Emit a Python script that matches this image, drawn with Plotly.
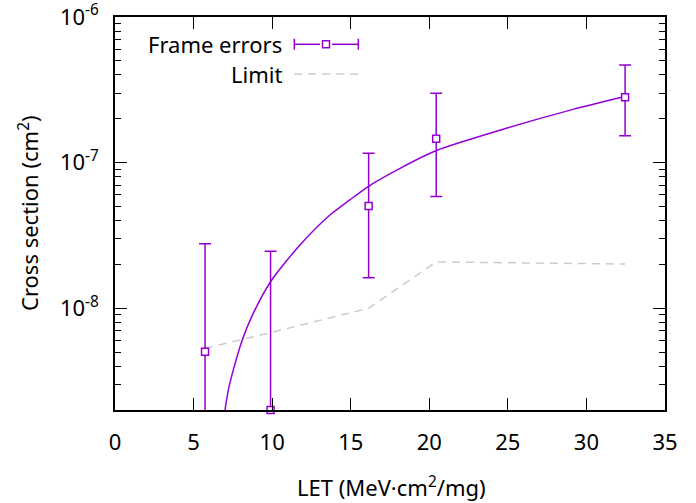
import math
import plotly.graph_objects as go

# Measured data (Frame errors)
let_vals = [5.73, 9.9, 16.14, 20.44, 32.46]
xs_vals = [5.03e-9, 2.0e-9, 5.03e-8, 1.46e-7, 2.81e-7]
err_hi = [2.77e-8, 2.46e-8, 1.16e-7, 2.99e-7, 4.68e-7]
err_lo = [5.0e-10, 5.0e-10, 1.62e-8, 5.86e-8, 1.53e-7]

# Limit
limit_let = [5.73, 9.9, 16.14, 20.44, 32.46]
limit_vals = [5.3e-9, 6.8e-9, 1.0e-8, 2.08e-8, 2.01e-8]

# Fit curve
fit_let = [7.0, 7.21, 7.53, 8.06, 8.70, 9.90, 11.77, 13.68, 14.9, 16.16, 18.2, 20.45, 24.9, 29.15, 32.44]
fit_vals = [2.0e-9, 2.74e-9, 3.77e-9, 5.89e-9, 8.75e-9, 1.52e-8, 2.72e-8, 4.37e-8,
            5.5e-8, 6.9e-8, 9.2e-8, 1.21e-7, 1.72e-7, 2.32e-7, 2.84e-7]

x_ticks = [0, 5, 10, 15, 20, 25, 30, 35]
y_major = [1e-8, 1e-7, 1e-6]
y_major_text = ["10<sup>-8</sup>", "10<sup>-7</sup>", "10<sup>-6</sup>"]
y_minor = [m * 10.0 ** e for e in (-9, -8, -7) for m in range(2, 10)]
y_min, y_max = 2e-9, 1e-6

x_title = "LET (MeV·cm<sup>2</sup>/mg)"
y_title = "Cross section (cm<sup>2</sup>)"

PURPLE = "#9400D3"
GRAY = "#cccccc"
FONT = "Noto Sans"
FS = 22

fig = go.Figure()

fig.add_trace(go.Scatter(
    x=limit_let, y=limit_vals, mode="lines",
    line=dict(color=GRAY, width=1.5, dash="8px,6px"),
    showlegend=False, hoverinfo="skip"))

fig.add_trace(go.Scatter(
    x=fit_let, y=fit_vals, mode="lines",
    line=dict(color=PURPLE, width=1.5, shape="spline", smoothing=0.7),
    showlegend=False, hoverinfo="skip"))

fig.add_trace(go.Scatter(
    x=let_vals, y=xs_vals, mode="markers",
    marker=dict(symbol="square", size=7, color="white", opacity=0,
                line=dict(color=PURPLE, width=1.5)),
    error_y=dict(type="data", symmetric=False,
                 array=[h - v for h, v in zip(err_hi, xs_vals)],
                 arrayminus=[v - l for l, v in zip(err_lo, xs_vals)],
                 color=PURPLE, thickness=1.5, width=6),
    showlegend=False))

fig.add_trace(go.Scatter(
    x=let_vals, y=xs_vals, mode="markers", cliponaxis=False,
    marker=dict(symbol="square", size=7, color="white",
                line=dict(color=PURPLE, width=1.5)),
    showlegend=False))

# Manual legend (gnuplot style: text left, sample on right)
L, R, T, B = 115, 665, 17, 410
def px(x):
    return (x - L) / (R - L)
def py(y):
    return (B - y) / (B - T)

y1, y2 = 44.3, 74.0
x_a, x_b, x_m = 294.3, 358.3, 326.0
shapes = [
    dict(type="line", xref="paper", yref="paper", x0=px(x_a), x1=px(x_m - 6), y0=py(y1), y1=py(y1),
         line=dict(color=PURPLE, width=1.5)),
    dict(type="line", xref="paper", yref="paper", x0=px(x_m + 6), x1=px(x_b), y0=py(y1), y1=py(y1),
         line=dict(color=PURPLE, width=1.5)),
    dict(type="line", xref="paper", yref="paper", x0=px(x_a), x1=px(x_a), y0=py(y1 - 5.5), y1=py(y1 + 5.5),
         line=dict(color=PURPLE, width=1.5)),
    dict(type="line", xref="paper", yref="paper", x0=px(x_b), x1=px(x_b), y0=py(y1 - 5.5), y1=py(y1 + 5.5),
         line=dict(color=PURPLE, width=1.5)),
    dict(type="rect", xref="paper", yref="paper", x0=px(x_m - 3.5), x1=px(x_m + 3.5),
         y0=py(y1 - 3.5), y1=py(y1 + 3.5), line=dict(color=PURPLE, width=1.5), fillcolor="white"),
    dict(type="line", xref="paper", yref="paper", x0=px(x_a), x1=px(x_b), y0=py(y2), y1=py(y2),
         line=dict(color=GRAY, width=1.5, dash="8px,6px")),
]

annotations = [
    dict(text="Frame errors", xref="paper", yref="paper", x=px(284), y=py(y1),
         xanchor="right", yanchor="middle", showarrow=False, font=dict(size=FS, color="black", family=FONT)),
    dict(text="Limit", xref="paper", yref="paper", x=px(284), y=py(y2),
         xanchor="right", yanchor="middle", showarrow=False, font=dict(size=FS, color="black", family=FONT)),
    dict(text=x_title, xref="paper", yref="paper", x=px(391), y=py(487),
         xanchor="center", yanchor="middle", showarrow=False, font=dict(size=FS, color="black", family=FONT)),
    dict(text=y_title, xref="paper", yref="paper", x=px(28), y=py(213), textangle=-90,
         xanchor="center", yanchor="middle", showarrow=False, font=dict(size=FS, color="black", family=FONT)),
]

fig.update_layout(
    width=696, height=503,
    margin=dict(l=L, r=696 - R, t=T, b=503 - B),
    paper_bgcolor="white", plot_bgcolor="white",
    font=dict(family=FONT, size=FS, color="black"),
    shapes=shapes, annotations=annotations,
    showlegend=False,
)

fig.update_xaxes(
    range=[0, 35], tickvals=x_ticks, ticktext=[str(v) for v in x_ticks],
    ticks="inside", ticklen=12, tickwidth=1.2, tickcolor="black",
    showline=True, linecolor="black", linewidth=1.5, mirror="allticks",
    showgrid=False, zeroline=False, ticklabelstandoff=12, ticklabeloverflow="allow",
    automargin=False,
)

fig.update_yaxes(
    type="log", range=[math.log10(y_min) - 1e-6, math.log10(y_max)],
    tickvals=y_major, ticktext=y_major_text,
    ticks="inside", ticklen=12, tickwidth=1.2, tickcolor="black",
    minor=dict(tickvals=y_minor, ticks="inside", ticklen=6, tickwidth=1.2, tickcolor="black"),
    showline=True, linecolor="black", linewidth=1.5, mirror="allticks",
    showgrid=False, zeroline=False, ticklabelstandoff=10, ticklabeloverflow="allow",
    automargin=False,
)

fig.write_html("out.html")
